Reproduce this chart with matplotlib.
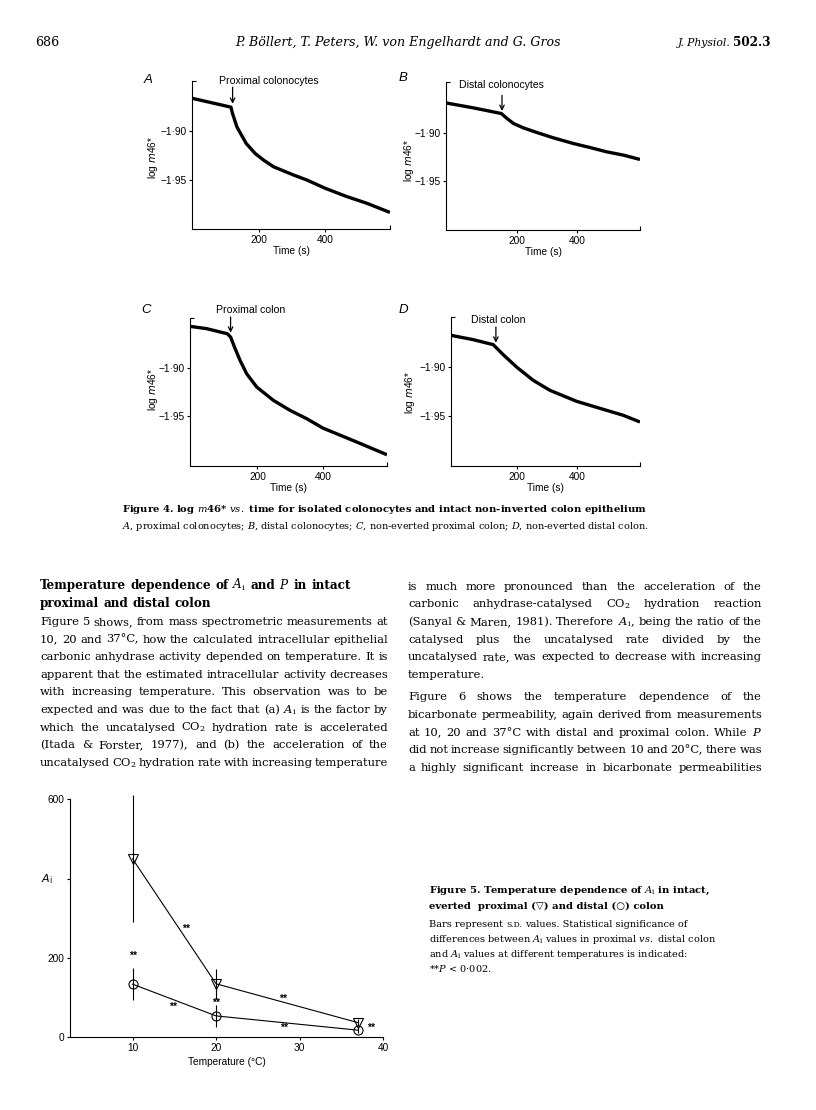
import matplotlib
matplotlib.use("Agg")
import matplotlib.pyplot as plt
from matplotlib.transforms import blended_transform_factory

# -----------------------------
# Data
# -----------------------------

# Figure 4: log m46* against time (s)
a_time = [0, 117, 122, 135, 163, 190, 215, 245, 305, 345, 400, 465, 525, 595]
a_logm = [-1.8666, -1.8757, -1.8824, -1.8959, -1.9128, -1.9230, -1.9297,
          -1.9365, -1.9449, -1.9500, -1.9584, -1.9669, -1.9737, -1.9831]
b_time = [-37, 56, 148, 167, 189, 222, 267, 322, 389, 444, 500, 556, 611]
b_logm = [-1.8693, -1.8745, -1.8803, -1.8855, -1.8907, -1.8952, -1.9000,
          -1.9055, -1.9114, -1.9155, -1.9200, -1.9234, -1.9279]
c_time = [-6, 45, 108, 118, 132, 147, 167, 198, 249, 300, 351, 400, 504, 596]
c_logm = [-1.8566, -1.8590, -1.8643, -1.8677, -1.8799, -1.8920, -1.9059,
          -1.9198, -1.9337, -1.9441, -1.9528, -1.9625, -1.9771, -1.9903]
d_time = [-16, 57, 123, 156, 200, 255, 310, 398, 486, 552, 607]
d_logm = [-1.8677, -1.8721, -1.8772, -1.8874, -1.9000, -1.9136, -1.9238,
          -1.9350, -1.9432, -1.9493, -1.9561]

xticks4 = [200, 400]
yticks4 = [-1.95, -1.90]
ytick_labels4 = ['\u22121\u00b795', '\u22121\u00b790']

# Figure 5: A_i against temperature
temperature = [10, 20, 37]
ai_proximal = [450, 135, 37]
sd_proximal = [160, 38, 8]
ai_distal = [134, 54, 18]
sd_distal = [40, 27, 8]

xticks5 = [10, 20, 30, 40]
yticks5 = [0, 200, 400, 600]
ytick_labels5 = ['0', '200', '', '600']

# page text
header_left = '686'
header_mid = 'P. Böllert, T. Peters, W. von Engelhardt and G. Gros'

fig4_title = 'Figure 4. log $m$46* $vs.$ time for isolated colonocytes and intact non-inverted colon epithelium'
fig4_legend = ('$A$, proximal colonocytes; $B$, distal colonocytes; $C$, non-everted proximal colon; '
               '$D$, non-everted distal colon.')

heading = ['Temperature dependence of $A_\\mathrm{i}$ and $P$ in intact',
           'proximal and distal colon']
left_body = [
    'Figure 5 shows, from mass spectrometric measurements at',
    '10, 20 and 37\u00b0C, how the calculated intracellular epithelial',
    'carbonic anhydrase activity depended on temperature. It is',
    'apparent that the estimated intracellular activity decreases',
    'with increasing temperature. This observation was to be',
    'expected and was due to the fact that (a) $A_\\mathrm{i}$ is the factor by',
    'which the uncatalysed CO$_2$ hydration rate is accelerated',
    '(Itada & Forster, 1977), and (b) the acceleration of the',
    'uncatalysed CO$_2$ hydration rate with increasing temperature',
]
right_para1 = [
    'is much more pronounced than the acceleration of the',
    'carbonic anhydrase-catalysed CO$_2$ hydration reaction',
    '(Sanyal & Maren, 1981). Therefore $A_\\mathrm{i}$, being the ratio of the',
    'catalysed plus the uncatalysed rate divided by the',
    'uncatalysed rate, was expected to decrease with increasing',
    'temperature.',
]
right_para2 = [
    'Figure 6 shows the temperature dependence of the',
    'bicarbonate permeability, again derived from measurements',
    'at 10, 20 and 37\u00b0C with distal and proximal colon. While $P$',
    'did not increase significantly between 10 and 20\u00b0C, there was',
    'a highly significant increase in bicarbonate permeabilities',
]

fig5_title = ['Figure 5. Temperature dependence of $A_\\mathrm{i}$ in intact,',
              'everted  proximal (\u25bd) and distal (\u25cb) colon']
fig5_legend = ['differences between $A_\\mathrm{i}$ values in proximal $vs.$ distal colon',
               'and $A_\\mathrm{i}$ values at different temperatures is indicated:',
               '**$P$ < 0\u00b7002.']

# -----------------------------
# Page set-up
# -----------------------------

SERIF = ['DejaVu Serif', 'DejaVu Sans']
SANS = ['Liberation Sans', 'DejaVu Sans']
plt.rcParams['font.family'] = SANS
plt.rcParams['mathtext.fontset'] = 'dejavusans'

W, H = 816, 1110
fig = plt.figure(figsize=(W / 100, H / 100), dpi=100)
renderer = fig.canvas.get_renderer()


def fx(px):
    return px / W


def fy(py):
    return 1 - py / H


def box(left, top, right, bottom):
    return [fx(left), fy(bottom), (right - left) / W, (bottom - top) / H]


def width_of(s, **kw):
    t = fig.text(0, 0, s, **kw)
    w = t.get_window_extent(renderer).width
    t.remove()
    return w


def fit_size(sample, target, **kw):
    return 10.0 * target / width_of(sample, fontsize=10, **kw)


def words_width(line, **kw):
    return sum(width_of(w, **kw) for w in line.split())


def put_line(line, x0, x1, y, justify, **kw):
    words = line.split()
    objs = [fig.text(0, fy(y), w, va='baseline', **kw) for w in words]
    widths = [o.get_window_extent(renderer).width for o in objs]
    if justify and len(words) > 1:
        gap = (x1 - x0 - sum(widths)) / (len(words) - 1)
    else:
        gap = width_of('n n', **kw) - width_of('nn', **kw)
    x = x0
    for o, w in zip(objs, widths):
        o.set_x(fx(x))
        x += w + gap


def put_runs(runs, x0, y, gap):
    x = x0
    for s, kw in runs:
        t = fig.text(fx(x), fy(y), s, va='baseline', **kw)
        x += t.get_window_extent(renderer).width + gap


serif = dict(family=SERIF, math_fontfamily='dejavuserif')

LX0, LX1 = 40, 388
RX0, RX1 = 408, 762

# body size: first line sits with ordinary spaces, no line gets squeezed
# below a small minimum gap
space10 = width_of('n n', fontsize=10, **serif) - width_of('nn', fontsize=10, **serif)
first = left_body[0]
body_size = 10.0 * (LX1 - LX0) / (words_width(first, fontsize=10, **serif)
                                  + space10 * (len(first.split()) - 1))
for line, col in ([(l, LX1 - LX0) for l in left_body]
                  + [(l, RX1 - RX0) for l in right_para1[:-1] + right_para2]):
    n = len(line.split())
    limit = 10.0 * (col - 1.6 * (n - 1)) / words_width(line, fontsize=10, **serif)
    body_size = min(body_size, limit)

small_size = fit_size('Bars represent S.D. values. Statistical signifi', 221, **serif)
cap4_size = fit_size('ure 4. log $m$46* $vs.$ time for isolated colonoc', 250,
                     weight='bold', **serif)
cap5_size = fit_size('everted  proximal (\u25bd) and distal (\u25cb) col', 221,
                     weight='bold', **serif)
head_size = body_size * 1.05
author_size = fit_size(header_mid, 325, style='italic', **serif)

# -----------------------------
# Running head
# -----------------------------

fig.text(fx(35), fy(46), header_left, fontsize=author_size, **serif)
fig.text(fx(398), fy(46), header_mid, ha='center', fontsize=author_size,
         style='italic', **serif)
jp_runs = [('J. Physiol.', dict(fontsize=author_size * 0.85, style='italic', **serif)),
           ('502.3', dict(fontsize=author_size * 0.95, weight='bold', **serif))]
jp_w = sum(width_of(s, **kw) for s, kw in jp_runs) + 2
put_runs(jp_runs, 770 - jp_w, 46, 2)

# -----------------------------
# Figure 4 panels
# -----------------------------

FS = 7.3


def trace_panel(rect, t, v, xlim, ylim, label, label_xy, arrow_x, arrow_y):
    ax = fig.add_axes(box(*rect))
    ax.plot(t, v, color='black', lw=2.4, solid_capstyle='butt')
    ax.set_xlim(xlim)
    ax.set_ylim(ylim)
    for side in ['top', 'right']:
        ax.spines[side].set_visible(False)
    for side in ['left', 'bottom']:
        ax.spines[side].set_linewidth(0.8)
    ax.set_xticks(xticks4)
    ax.set_xticklabels([str(x) for x in xticks4], fontsize=FS)
    ax.set_yticks(yticks4)
    ax.set_yticklabels(ytick_labels4, fontsize=FS)
    ax.set_xticks([xlim[1]], minor=True)
    ax.set_yticks([ylim[1]], minor=True)
    ax.tick_params(which='major', direction='out', length=2, width=0.8, pad=2)
    ax.tick_params(which='minor', direction='in', length=3, width=0.8)
    ax.set_xlabel('Time (s)', fontsize=FS, labelpad=1)
    ax.text(label_xy[0], label_xy[1], label, ha='center', va='center',
            fontsize=7.6, clip_on=False)
    ax.annotate('', xy=(arrow_x, arrow_y[1]), xytext=(arrow_x, arrow_y[0]),
                arrowprops=dict(arrowstyle='->', lw=0.9, color='black',
                                shrinkA=0, shrinkB=0, mutation_scale=8),
                annotation_clip=False)
    return ax


trace_panel((192, 81, 390, 229), a_time, a_logm, (0, 595), (-2.0, -1.849),
            'Proximal colonocytes', (230, -1.8493), 122, (-1.8554, -1.8723))
trace_panel((446, 82, 640, 230), b_time, b_logm, (-37, 611), (-2.001, -1.8476),
            'Distal colonocytes', (148, -1.851), 150, (-1.8614, -1.8776))
trace_panel((190, 318, 387, 466), c_time, c_logm, (-6, 596), (-2.002, -1.8479),
            'Proximal colon', (178, -1.8399), 118, (-1.8469, -1.8632))
trace_panel((451, 317, 640, 466), d_time, d_logm, (-16, 607), (-2.001, -1.849),
            'Distal colon', (140, -1.8524), 132, (-1.8592, -1.8752))

for letter, (lx, ly) in zip('ABCD', [(148, 80), (403, 78), (146, 310), (403, 310)]):
    fig.text(fx(lx), fy(ly), letter, ha='center', va='center', fontsize=9.5,
             style='italic')
for (lx, ly) in [(153, 157), (409, 160), (153, 389), (410, 392)]:
    fig.text(fx(lx), fy(ly), 'log $m$46*', rotation=90, ha='center', va='center',
             fontsize=FS)

# Figure 4 legend
cap4_x = 140 - width_of('Fig', fontsize=cap4_size, weight='bold', **serif)
fig.text(fx(cap4_x), fy(512), fig4_title, fontsize=cap4_size, weight='bold',
         va='baseline', **serif)
fig.text(fx(cap4_x), fy(529), fig4_legend, fontsize=small_size, va='baseline', **serif)

# -----------------------------
# Two-column body text
# -----------------------------

STEP = 17.6

for i, line in enumerate(heading):
    put_line(line, LX0, LX1, 589 + i * 18, False, fontsize=head_size,
             weight='bold', **serif)
for i, line in enumerate(left_body):
    put_line(line, LX0, LX1, 625 + i * STEP, True, fontsize=body_size, **serif)
for i, line in enumerate(right_para1):
    put_line(line, RX0, RX1, 589.8 + i * STEP, i < len(right_para1) - 1,
             fontsize=body_size, **serif)
for i, line in enumerate(right_para2):
    put_line(line, RX0, RX1, 700.5 + i * STEP, True, fontsize=body_size, **serif)

# -----------------------------
# Figure 5
# -----------------------------

ax5 = fig.add_axes(box(70, 791.5, 383, 1037.3))
ax5.errorbar(temperature, ai_proximal, yerr=sd_proximal, fmt='v-', color='black',
             mfc='none', ms=6.5, mew=0.8, lw=0.8, elinewidth=0.8, capsize=0)
ax5.errorbar(temperature, ai_distal, yerr=sd_distal, fmt='o-', color='black',
             mfc='none', ms=6.5, mew=0.8, lw=0.8, elinewidth=0.8, capsize=0)
ax5.set_xlim(2.5, 40)
ax5.set_ylim(0, 620)
for side in ['top', 'right']:
    ax5.spines[side].set_visible(False)
ax5.spines['left'].set_bounds(0, 600)
ax5.spines['bottom'].set_bounds(2.5, 40)
for side in ['left', 'bottom']:
    ax5.spines[side].set_linewidth(0.8)
ax5.set_xticks(xticks5)
ax5.set_xticklabels([str(x) for x in xticks5], fontsize=FS)
ax5.set_yticks(yticks5)
ax5.set_yticklabels(ytick_labels5, fontsize=FS)
ax5.tick_params(direction='out', length=2, width=0.8, pad=2)
ax5.set_xlabel('Temperature (\u00b0C)', fontsize=FS, labelpad=3)
ax5.text(-0.075, 400, '$A_\\mathrm{i}$',
         transform=blended_transform_factory(ax5.transAxes, ax5.transData),
         ha='center', va='center', fontsize=8)
for sx, sy in [(16.4, 273), (10, 205), (14.8, 76), (20, 86), (28.0, 98), (28.1, 23), (38.6, 24)]:
    ax5.text(sx, sy, '**', ha='center', va='center', fontsize=7.5, weight='bold',
             clip_on=False)

# Figure 5 legend
CX = 429
for i, line in enumerate(fig5_title):
    fig.text(fx(CX), fy(893 + i * 16), line, fontsize=cap5_size, weight='bold',
             va='baseline', **serif)
small = dict(fontsize=small_size, **serif)
sp = width_of('n n', **small) - width_of('nn', **small)
put_runs([('Bars represent', small),
          ('S.D.', dict(fontsize=small_size * 0.8, **serif)),
          ('values. Statistical significance of', small)], CX, 927, sp)
for i, line in enumerate(fig5_legend):
    fig.text(fx(CX), fy(942 + i * 15.2), line, va='baseline', **small)

fig.savefig('out.png', dpi=100)
